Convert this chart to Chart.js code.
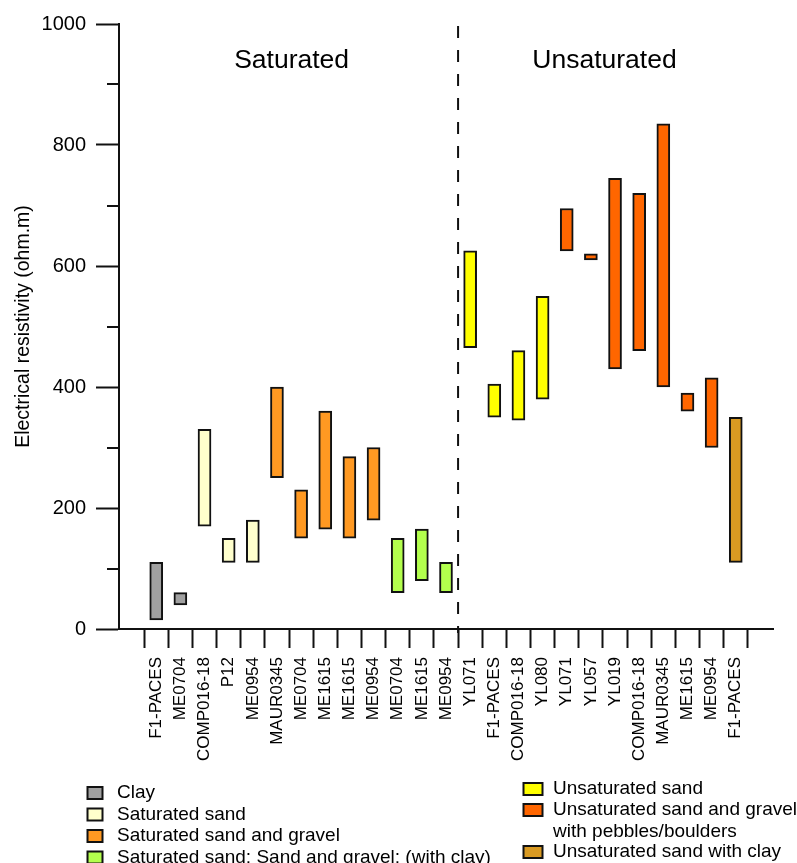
<!DOCTYPE html>
<html>
<head>
<meta charset="utf-8">
<script src="https://cdn.jsdelivr.net/npm/chart.js@4.4.1/dist/chart.umd.min.js"></script>
<style>
  html, body { margin: 0; padding: 0; background: #ffffff; }
  canvas { display: block; }
</style>
</head>
<body>
<canvas id="c" width="797" height="863"></canvas>
<script>
// ---- data ----
const categories = ['F1-PACES','ME0704','COMP016-18','P12','ME0954','MAUR0345','ME0704','ME1615','ME1615','ME0954','ME0704','ME1615','ME0954',
                    'YL071','F1-PACES','COMP016-18','YL080','YL071','YL057','YL019','COMP016-18','MAUR0345','ME1615','ME0954','F1-PACES'];
const lows  = [15, 40, 170, 110, 110, 250, 150, 165, 150, 180, 60, 80, 60,
               465, 350, 345, 380, 625, 610, 430, 460, 400, 360, 300, 110];
const highs = [110, 60, 330, 150, 180, 400, 230, 360, 285, 300, 150, 165, 110,
               625, 405, 460, 550, 695, 620, 745, 720, 835, 390, 415, 350];
const materials = ['Clay', 'Saturated sand', 'Saturated sand and gravel', 'Saturated sand; Sand and gravel; (with clay)',
                   'Unsaturated sand', 'Unsaturated sand and gravel\nwith pebbles/boulders', 'Unsaturated sand with clay'];
const materialOfBar = [0,0,1,1,1,2,2,2,2,2,3,3,3, 4,4,4,4,5,5,5,5,5,5,5,6];
const materialColors = ['#a0a0a0', '#ffffcc', '#ff9922', '#b3ff4d', '#ffff00', '#ff6600', '#d99a22'];
const groupTitles = ['Saturated', 'Unsaturated'];
const groupCounts = [13, 12];
const yTickValues = [0, 200, 400, 600, 800, 1000];

const FONT = "'Liberation Sans', Arial, Helvetica, sans-serif";
const INK = '#111111';

const datasets = materials.map((m, k) => ({
  label: m,
  data: categories.map((c, i) => ({ x: i + 1, y: [lows[i], highs[i]] }))
                  .filter((_, i) => materialOfBar[i] === k),
  backgroundColor: materialColors[k],
  borderColor: INK,
  borderWidth: 2,
  borderSkipped: false,
  barThickness: 13,
  grouped: false
}));

const decorPlugin = {
  id: 'decor',
  afterDraw(chart) {
    const ctx = chart.ctx;
    const xs = chart.scales.x, ys = chart.scales.y;
    const area = chart.chartArea;
    ctx.save();
    // minor y ticks
    ctx.strokeStyle = INK; ctx.lineWidth = 2;
    for (let v = 100; v < 1000; v += 200) {
      const py = Math.round(ys.getPixelForValue(v));
      ctx.beginPath(); ctx.moveTo(area.left - 12, py); ctx.lineTo(area.left, py); ctx.stroke();
    }
    // dashed divider
    const divX = xs.getPixelForValue(groupCounts[0] + 0.5);
    ctx.setLineDash([12, 12]);
    ctx.beginPath(); ctx.moveTo(divX, area.top + 2); ctx.lineTo(divX, area.bottom + 4); ctx.stroke();
    ctx.setLineDash([]);
    // group titles
    ctx.fillStyle = '#000';
    ctx.font = '26.5px ' + FONT;
    ctx.textAlign = 'center'; ctx.textBaseline = 'middle';
    const titleShift = [-9.5, 1.5];
    let start = 1;
    groupTitles.forEach((t, g) => {
      const end = start + groupCounts[g] - 1;
      const cx = xs.getPixelForValue((start + end) / 2) + titleShift[g];
      ctx.fillText(t, cx, 61);
      start = end + 1;
    });
    // legend
    ctx.font = '19px ' + FONT;
    ctx.textAlign = 'left';
    const leftRows = [793, 814.5, 836, 857.5];
    const rightRows = [789, 810, 852];
    chart.data.datasets.forEach((ds, k) => {
      let bx, by, bw, tx;
      if (k < 4) { bx = 87.5; bw = 15; by = leftRows[k]; tx = 117; }
      else { bx = 523.5; bw = 19; by = rightRows[k - 4]; tx = 553; }
      ctx.fillStyle = ds.backgroundColor;
      ctx.fillRect(bx, by - 6, bw, 12);
      ctx.lineWidth = 2; ctx.strokeStyle = INK;
      ctx.strokeRect(bx, by - 6, bw, 12);
      ctx.fillStyle = '#000';
      ds.label.split('\n').forEach((line, li) => {
        ctx.fillText(line, tx, by + li * 21.5);
      });
    });
    ctx.restore();
  }
};

new Chart(document.getElementById('c'), {
  type: 'bar',
  data: { datasets },
  plugins: [decorPlugin],
  options: {
    responsive: false,
    animation: false,
    devicePixelRatio: 1,
    layout: { padding: { top: 24, right: 24, bottom: 100, left: 0 } },
    plugins: { legend: { display: false }, tooltip: { enabled: false } },
    scales: {
      x: {
        type: 'linear',
        min: 0, max: categories.length + 1,
        afterBuildTicks(scale) { scale.ticks = categories.map((c, i) => ({ value: i + 1 })); },
        afterFit(scale) { scale.height = 863 - 100 - 629; },
        ticks: {
          autoSkip: false, maxRotation: 90, minRotation: 90,
          padding: 9,
          color: '#000',
          font: { family: FONT, size: 17 },
          callback: (v) => categories[Math.round(v) - 1] || ''
        },
        grid: { display: true, drawOnChartArea: false, drawTicks: true, tickLength: 19, tickWidth: 2, tickColor: INK },
        border: { display: true, color: INK, width: 2 }
      },
      y: {
        type: 'linear',
        min: 0, max: 1000,
        afterBuildTicks(scale) { scale.ticks = yTickValues.map(v => ({ value: v })); },
        afterFit(scale) { scale.width = 119; },
        ticks: {
          padding: 10,
          color: '#000',
          font: { family: FONT, size: 20 },
          callback: (v) => String(v)
        },
        grid: { display: true, drawOnChartArea: false, drawTicks: true, tickLength: 23, tickWidth: 2, tickColor: INK },
        border: { display: true, color: INK, width: 2 },
        title: {
          display: true,
          text: 'Electrical resistivity (ohm.m)',
          color: '#000',
          font: { family: FONT, size: 19.5 },
          padding: { top: 12, bottom: 0 }
        }
      }
    }
  }
});
</script>
</body>
</html>
